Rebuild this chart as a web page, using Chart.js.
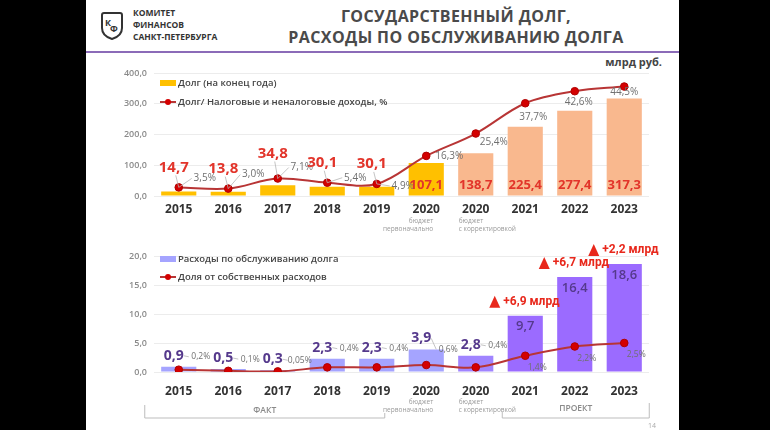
<!DOCTYPE html>
<html>
<head>
<meta charset="utf-8">
<script src="https://cdn.jsdelivr.net/npm/chart.js@4.4.1/dist/chart.umd.min.js"></script>
<style>
  body { margin: 0; background: #000; width: 770px; height: 430px; overflow: hidden; font-family: "Open Sans", sans-serif; }
  #slide { position: absolute; left: 86px; top: 0; width: 593px; height: 430px; background: #fff; }
  #logo { position: absolute; left: 13px; top: 11px; }
  #org { position: absolute; left: 47px; top: 7px; font-size: 8.5px; font-weight: 700; line-height: 12px; color: #333; }
  #title { position: absolute; left: 150px; top: 6px; width: 440px; text-align: center; font-size: 16px; font-weight: 700; line-height: 21px; color: #4a4a4a; letter-spacing: 0.4px; }
  #rule { position: absolute; left: 0; top: 51px; width: 593px; height: 2px; background: #8b6bb8; }
  #unit { position: absolute; right: 17px; top: 54px; font-size: 11px; font-weight: 700; color: #444; }
  #page { position: absolute; left: 562px; top: 421px; font-size: 7px; color: #aaa; }
  canvas { position: absolute; left: 0; }
</style>
</head>
<body>
<div id="slide">
  <svg id="logo" width="26" height="30" viewBox="0 0 26 30">
    <path d="M3 4 Q3 2 5 2 L21 2 Q23 2 23 4 L23 17 Q23 25 13 28 Q3 25 3 17 Z" fill="none" stroke="#333" stroke-width="2"/>
    <text x="6" y="15" font-size="9" font-weight="700" fill="#333" font-family="Open Sans">К</text>
    <text x="11" y="21" font-size="9" font-weight="700" fill="#333" font-family="Open Sans">Ф</text>
  </svg>
  <div id="org">КОМИТЕТ<br>ФИНАНСОВ<br>САНКТ-ПЕТЕРБУРГА</div>
  <div id="title">ГОСУДАРСТВЕННЫЙ ДОЛГ,<br>РАСХОДЫ ПО ОБСЛУЖИВАНИЮ ДОЛГА</div>
  <div id="rule"></div>
  <div id="unit">млрд руб.</div>
  <canvas id="debtChart" width="593" height="178" style="top:58px;width:593px;height:178px"></canvas>
  <canvas id="serviceChart" width="593" height="192" style="top:238px;width:593px;height:192px"></canvas>
  <div id="page">14</div>
</div>
<script>
// Данные
const years = ["2015", "2016", "2017", "2018", "2019", "2020", "2020", "2021", "2022", "2023"];
const debt = [14.7, 13.8, 34.8, 30.1, 30.1, 107.1, 138.7, 225.4, 277.4, 317.3];
const debtShare = [3.5, 3.0, 7.1, 5.4, 4.9, 16.3, 25.4, 37.7, 42.6, 44.5];
const service = [0.9, 0.5, 0.3, 2.3, 2.3, 3.9, 2.8, 9.7, 16.4, 18.6];
const serviceShare = [0.2, 0.1, 0.05, 0.4, 0.4, 0.6, 0.4, 1.4, 2.2, 2.5];
const debtTicks = [0, 100, 200, 300, 400];
const serviceTicks = [0, 5, 10, 15, 20];
const budgetNotes = { 5: ["бюджет", "первоначально"], 6: ["бюджет", "с корректировкой"] };

const RED = "#e2342a";
const LINE = "#b83535";
const DOT = "#d40000";
const GRAY = "#707070";
const PURPLE = "#55398c";

function fmt(v, d) {
  return v.toFixed(d).replace(".", ",");
}
function pct(v) {
  return fmt(v, v < 0.1 ? 2 : 1) + "%";
}

function leader(ctx, x1, y1, x2, y2) {
  ctx.save();
  ctx.strokeStyle = "#b5b5b5";
  ctx.lineWidth = 0.8;
  ctx.beginPath();
  ctx.moveTo(x1, y1);
  ctx.lineTo(x2, y2);
  ctx.stroke();
  ctx.restore();
}

function text(ctx, s, x, y, font, color, align) {
  ctx.font = font;
  ctx.fillStyle = color;
  ctx.textAlign = align || "center";
  ctx.textBaseline = "middle";
  ctx.fillText(s, x, y);
}

// Легенда внутри области графика
function drawLegend(chart, dy, rowGap) {
  const ctx = chart.ctx;
  const a = chart.chartArea;
  const x = a.left + 6;
  chart.data.datasets.forEach((ds, k) => {
    const y = a.top + dy + k * rowGap;
    if (ds.type === "line") {
      ctx.strokeStyle = LINE;
      ctx.lineWidth = 2;
      ctx.beginPath();
      ctx.moveTo(x, y);
      ctx.lineTo(x + 16, y);
      ctx.stroke();
      ctx.fillStyle = DOT;
      ctx.beginPath();
      ctx.arc(x + 8, y, 3, 0, Math.PI * 2);
      ctx.fill();
    } else {
      ctx.fillStyle = ds.legendColor;
      ctx.fillRect(x, y - 3, 16, 6);
    }
    text(ctx, ds.label, x + 18, y, "600 9.5px 'Open Sans'", "#444", "left");
  });
}

function drawNotes(chart, y0) {
  const ctx = chart.ctx;
  const xs = chart.scales.x;
  Object.keys(budgetNotes).forEach((i) => {
    const x = xs.getPixelForValue(Number(i));
    const left = Number(i) === 6;
    budgetNotes[i].forEach((s, r) => {
      text(ctx, s, left ? x - 17 : x + 7, y0 + r * 8, "6.5px 'Open Sans'", "#9a9a9a", left ? "left" : "right");
    });
  });
}

const debtPlugin = {
  id: "debtPlugin",
  afterDraw(chart) {
    const ctx = chart.ctx;
    const bars = chart.getDatasetMeta(0).data;
    const pts = chart.getDatasetMeta(1).data;
    const base = chart.scales.y.getPixelForValue(0);
    const pctShift = [[26, -9], [25, -14], [24, -11], [28, -5], [26, 2], [23, 0], [18, 9], [8, 14], [4, 11], [0, 6]];
    bars.forEach((b, i) => {
      const p = pts[i];
      if (i < 5) {
        const lx = p.x - 5, ly = p.y - (i === 2 ? 25 : 20);
        leader(ctx, p.x, p.y, lx + 2, ly + 8);
        text(ctx, fmt(debt[i], 1), lx, ly, "700 15px 'Open Sans'", RED);
      } else {
        text(ctx, fmt(debt[i], 1), b.x, base - 11, "700 13px 'Open Sans'", RED);
      }
      const [dx, dy] = pctShift[i];
      if (i < 5) leader(ctx, p.x, p.y, p.x + dx - 13, p.y + dy);
      text(ctx, pct(debtShare[i]), p.x + dx, p.y + dy, "10px 'Open Sans'", GRAY);
    });
    drawLegend(chart, 10, 19);
    drawNotes(chart, base + 25);
  }
};

const servicePlugin = {
  id: "servicePlugin",
  afterDraw(chart) {
    const ctx = chart.ctx;
    const bars = chart.getDatasetMeta(0).data;
    const pts = chart.getDatasetMeta(1).data;
    const base = chart.scales.y.getPixelForValue(0);
    bars.forEach((b, i) => {
      const p = pts[i];
      if (i < 7) {
        const lx = b.x - 5, ly = b.y - 11;
        text(ctx, fmt(service[i], 1), lx, ly, "700 14px 'Open Sans'", PURPLE);
        const px = b.x + 22, py = ly + (i === 5 ? 11 : 1);
        leader(ctx, lx + 10, ly, px - 12, py);
        text(ctx, pct(serviceShare[i]), px, py, "8.5px 'Open Sans'", GRAY);
      } else {
        text(ctx, fmt(service[i], 1), b.x, b.y + 11, "600 13px 'Open Sans'", PURPLE);
        text(ctx, pct(serviceShare[i]), p.x + 12, p.y + 12, "8.5px 'Open Sans'", GRAY);
        // прирост к предыдущему году
        const gx = b.x - 36, gy = b.y - 14;
        ctx.fillStyle = "#e8281c";
        ctx.beginPath();
        ctx.moveTo(gx, gy + 6);
        ctx.lineTo(gx + 11, gy + 6);
        ctx.lineTo(gx + 5.5, gy - 6);
        ctx.closePath();
        ctx.fill();
        const delta = service[i] - service[i - 1];
        text(ctx, "+" + fmt(delta, 1) + " млрд", gx + 14, gy, "700 12px Roboto", "#e8281c", "left");
      }
    });
    drawLegend(chart, 3, 18);
    drawNotes(chart, base + 30);

    // скобки ФАКТ / ПРОЕКТ
    const xs = chart.scales.x;
    const yb = base + 46;
    ctx.strokeStyle = "#bdbdbd";
    ctx.lineWidth = 1;
    ctx.beginPath();
    const f1 = xs.getPixelForValue(0) - 34, f2 = xs.getPixelForValue(4) + 8;
    ctx.moveTo(f1, yb - 13);
    ctx.lineTo(f1, yb);
    ctx.lineTo(f2, yb);
    ctx.lineTo(f2, yb - 5);
    const p1 = xs.getPixelForValue(7) - 23, p2 = xs.getPixelForValue(9) + 25;
    ctx.moveTo(p1, yb - 6);
    ctx.lineTo(p1, yb);
    ctx.lineTo(p2, yb);
    ctx.lineTo(p2, yb - 15);
    ctx.stroke();
    text(ctx, "ФАКТ", (f1 + f2) / 2, yb - 7, "600 8.5px 'Open Sans'", "#8a8a8a");
    text(ctx, "ПРОЕКТ", (p1 + p2) / 2, yb - 9, "600 8.5px 'Open Sans'", "#8a8a8a");
  }
};

function makeChart(id, bars, barColors, legendColor, barLabel, share, lineLabel, ticks, shareMax, xHeight, top, tickPad, plugin) {
  return new Chart(document.getElementById(id), {
    data: {
      labels: years,
      datasets: [
        {
          type: "bar",
          label: barLabel,
          data: bars,
          backgroundColor: barColors,
          legendColor: legendColor,
          barPercentage: 0.71,
          categoryPercentage: 1,
          yAxisID: "y",
          order: 2,
        },
        {
          type: "line",
          label: lineLabel,
          data: share,
          borderColor: LINE,
          borderWidth: 2,
          pointBackgroundColor: DOT,
          pointBorderColor: "#b00000",
          pointBorderWidth: 1,
          pointRadius: 3.8,
          tension: 0.35,
          yAxisID: "y1",
          order: 1,
        },
      ],
    },
    options: {
      responsive: false,
      animation: false,
      layout: { padding: { top: top, right: 30, left: 0, bottom: 0 } },
      plugins: { legend: { display: false }, tooltip: { enabled: false } },
      scales: {
        x: {
          grid: { display: false, drawTicks: false },
          border: { display: false },
          ticks: { color: "#333", font: { family: "Open Sans", size: 12, weight: "700" }, padding: tickPad },
          afterFit: (s) => { s.height = xHeight; },
        },
        y: {
          min: ticks[0],
          max: ticks[ticks.length - 1],
          afterBuildTicks: (s) => { s.ticks = ticks.map((v) => ({ value: v })); },
          grid: { color: "#ececec", drawTicks: false },
          border: { display: false },
          ticks: {
            color: "#8a8a8a",
            padding: 7,
            font: { family: "Open Sans", size: 9, weight: "600" },
            callback: (v) => fmt(v, 1),
          },
          afterFit: (s) => { s.width = 68; },
        },
        y1: { display: false, min: 0, max: shareMax },
      },
    },
    plugins: [plugin],
  });
}

makeChart(
  "debtChart", debt,
  years.map((_, i) => (i < 6 ? "#ffc000" : "#f9b88e")), "#ffc000",
  "Долг (на конец года)", debtShare, "Долг/ Налоговые и неналоговые доходы, %",
  debtTicks, 50, 40, 15, 6, debtPlugin
);

makeChart(
  "serviceChart", service,
  years.map((_, i) => (i < 6 ? "#a5a4ff" : i === 6 ? "#a084ff" : "#9b6bff")), "#a5a4ff",
  "Расходы по обслуживанию долга", serviceShare, "Доля от собственных расходов",
  serviceTicks, 10, 58, 18, 12, servicePlugin
);
</script>
</body>
</html>
